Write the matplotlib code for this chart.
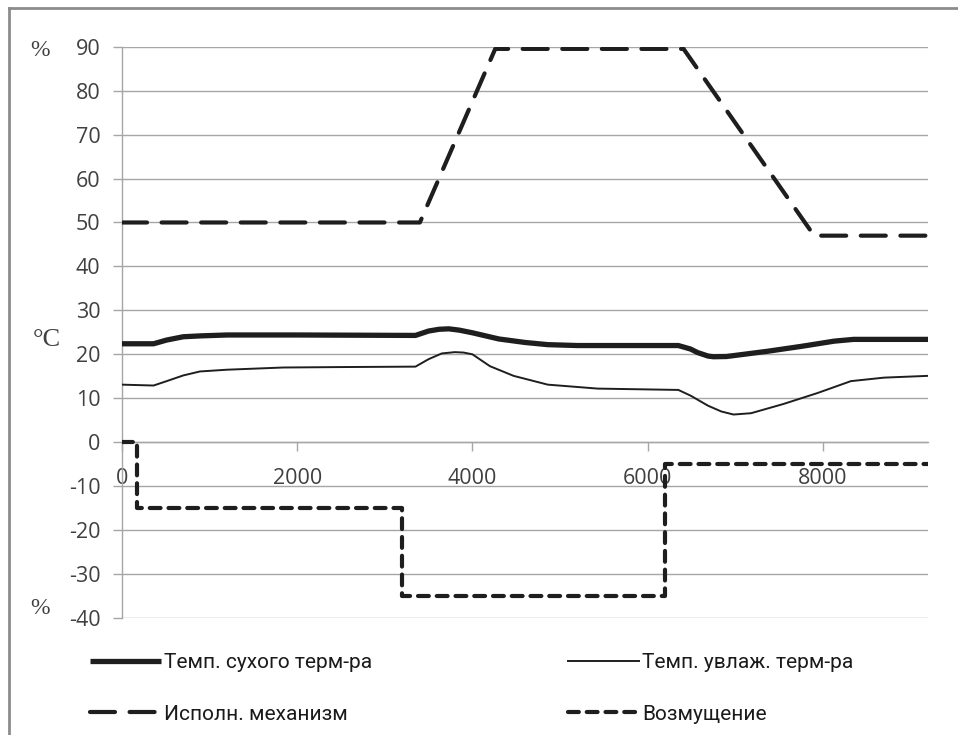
import matplotlib
matplotlib.use("Agg")
import matplotlib.pyplot as plt
from matplotlib.lines import Line2D

plt.rcParams["axes.unicode_minus"] = False

# ---- data ----
t_dry = [0, 360, 510, 700, 900, 1200, 2000, 3350, 3500, 3620, 3730, 3850, 4000, 4300, 4600, 4860, 5200,
         6350, 6490, 6570, 6690, 6750, 6900, 7370, 7750, 8130, 8350, 8700, 9200]
dry = [22.4, 22.4, 23.25, 24.0, 24.2, 24.4, 24.4, 24.3, 25.3, 25.7, 25.8, 25.5, 24.9, 23.5, 22.7, 22.2, 22.0,
       22.0, 21.2, 20.4, 19.6, 19.45, 19.5, 20.7, 21.8, 23.0, 23.4, 23.4, 23.4]

t_wet = [0, 360, 510, 700, 890, 1200, 1840, 2500, 3350, 3500, 3650, 3800, 3900, 4000, 4200, 4470, 4860,
         5430, 6350, 6490, 6690, 6840, 6980, 7180, 7550, 7940, 8320, 8700, 9200]
wet = [13.1, 12.9, 13.9, 15.2, 16.1, 16.5, 17.0, 17.1, 17.2, 18.9, 20.2, 20.5, 20.4, 20.0, 17.3, 15.1, 13.1,
       12.2, 11.9, 10.6, 8.3, 7.0, 6.3, 6.6, 8.7, 11.2, 13.9, 14.7, 15.1]

t_act = [0, 3400, 4260, 6410, 7900, 9200]
act = [50, 50, 89.5, 89.5, 47, 47]

t_dist = [0, 170, 170, 3200, 3200, 6200, 6200, 9200]
dist = [0, 0, -15, -15, -35, -35, -5, -5]

x_ticks = [0, 2000, 4000, 6000, 8000]
y_ticks = list(range(-40, 91, 10))

labels = ["Темп. сухого терм-ра", "Темп. увлаж. терм-ра", "Исполн. механизм", "Возмущение"]

# ---- figure ----
W, H = 958, 735
fig = plt.figure(figsize=(W / 100, H / 100), dpi=100)
ax = fig.add_axes([122 / W, 1 - 618 / H, 806 / W, 571.3 / H])

line_col = "#1e1e1e"
grid_col = "#a6a6a6"
lbl_col = "#404040"

l_dry, = ax.plot(t_dry, dry, color=line_col, lw=3.8, solid_capstyle="butt", zorder=3)
l_wet, = ax.plot(t_wet, wet, color=line_col, lw=1.4, zorder=3)
l_act, = ax.plot(t_act, act, color=line_col, lw=3.0, dashes=(6, 3.5), dash_capstyle="round", zorder=3)
l_dist, = ax.plot(t_dist, dist, color=line_col, lw=3.0, dashes=(2.6, 1.9), dash_capstyle="round", zorder=3)

ax.set_xlim(0, 9200)
ax.set_ylim(-40, 90)
ax.set_yticks(y_ticks)
ax.set_xticks(x_ticks)

for s in ["top", "right"]:
    ax.spines[s].set_visible(False)
ax.spines["left"].set_color(grid_col)
ax.spines["left"].set_linewidth(1.0)
ax.spines["bottom"].set_position(("data", 0))
ax.spines["bottom"].set_color(grid_col)
ax.spines["bottom"].set_linewidth(1.0)

ax.yaxis.grid(True, color=grid_col, lw=1.0, zorder=0)
ax.set_axisbelow(True)

ax.tick_params(axis="y", direction="out", length=6.5, width=1.0, color=grid_col, pad=9,
               labelcolor=lbl_col)
ax.tick_params(axis="x", direction="out", length=6.5, width=1.0, color=grid_col, pad=12,
               labelcolor=lbl_col)
for lab in ax.get_yticklabels() + ax.get_xticklabels():
    lab.set_fontfamily(["Open Sans", "DejaVu Sans"])
    lab.set_fontsize(15.5)

# unit labels
serif = ["Liberation Serif", "DejaVu Serif"]
fig.text(40 / W, 1 - 50 / H, "%", family=serif, size=17, color=lbl_col, ha="center", va="center")
fig.text(47 / W, 1 - 340 / H, "°C", family=serif, size=19, color=lbl_col, ha="center", va="center")
fig.text(40 / W, 1 - 608 / H, "%", family=serif, size=17, color=lbl_col, ha="center", va="center")

# legend (row-major: dry, wet / actuator, disturbance)
leg = fig.legend([l_dry, l_act, l_wet, l_dist], [labels[0], labels[2], labels[1], labels[3]],
                 ncol=2, loc="upper left", bbox_to_anchor=(82 / W, 1 - 645 / H),
                 frameon=False, handlelength=3.4, handletextpad=0.15, columnspacing=9.4,
                 labelspacing=1.55, borderaxespad=0, borderpad=0.4,
                 prop=dict(family=["Roboto", "DejaVu Sans"], size=15))
for t in leg.get_texts():
    t.set_color("#1a1a1a")

# outer frame (left and top edges)
fig.add_artist(Line2D([9 / W, 9 / W], [0, 1 - 8 / H], transform=fig.transFigure, color="#8c8c8c", lw=2))
fig.add_artist(Line2D([9 / W, 1], [1 - 8 / H, 1 - 8 / H], transform=fig.transFigure, color="#8c8c8c", lw=2))

fig.savefig("out.png", dpi=100)
